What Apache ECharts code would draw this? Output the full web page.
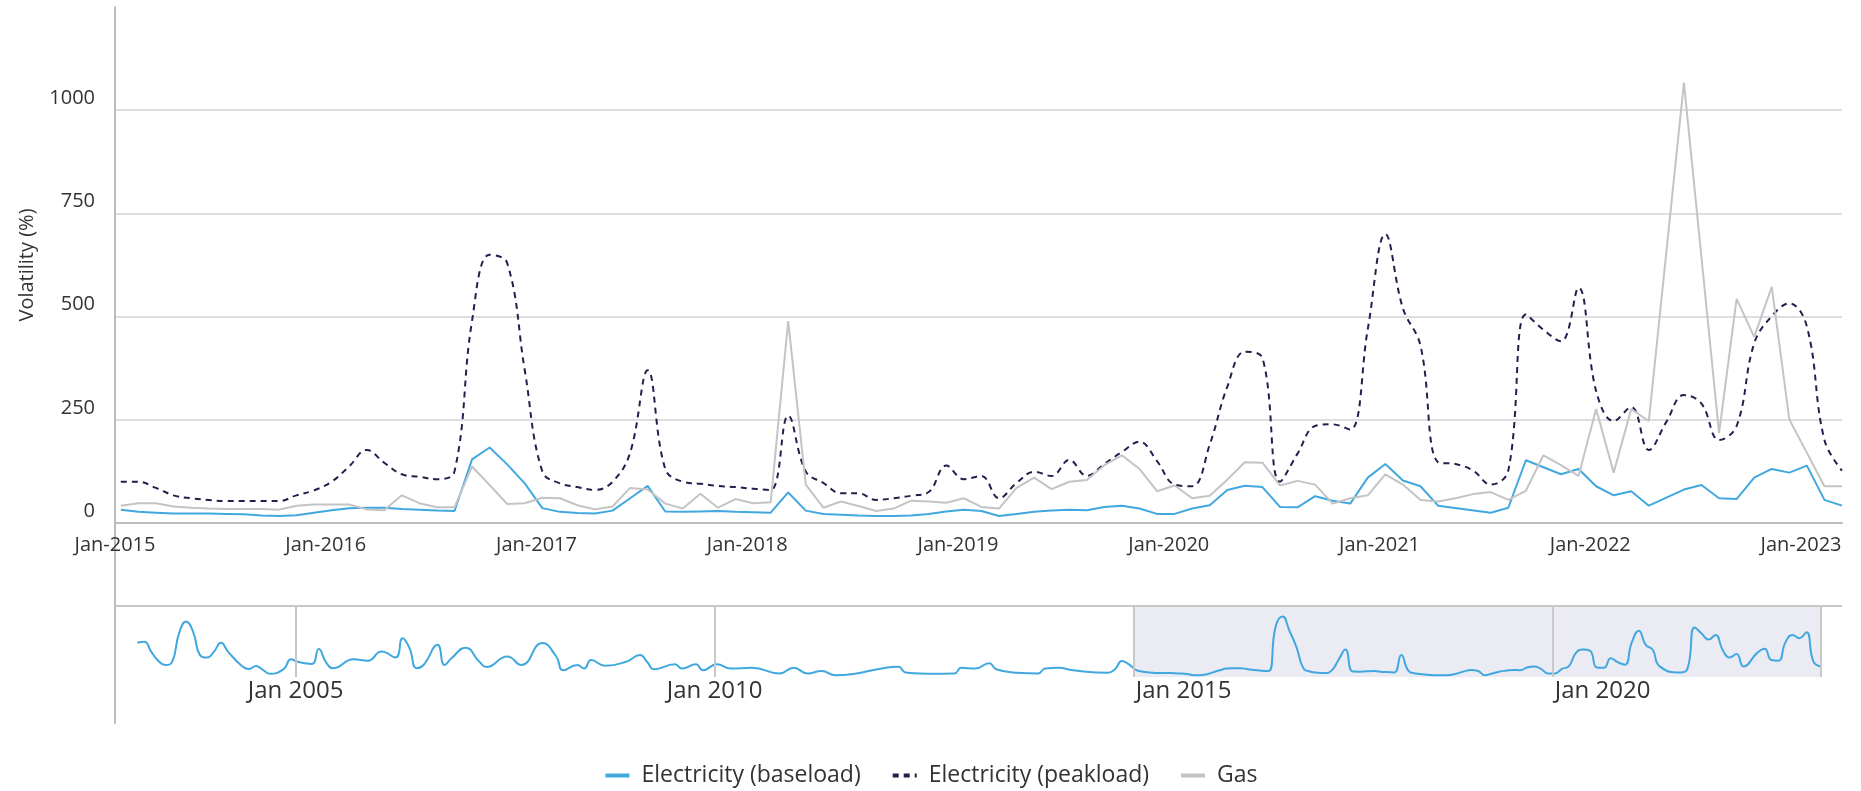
<!DOCTYPE html>
<html>
<head>
<meta charset="utf-8">
<title>Volatility</title>
<script src="https://cdn.jsdelivr.net/npm/echarts@6/dist/echarts.min.js"></script>
<style>
  html, body { margin: 0; padding: 0; background: #fff; }
  #chart { width: 1861px; height: 791px; }
</style>
</head>
<body>
<div id="chart"></div>
<script>
// monthly volatility (%), Jan 2015 .. Mar 2023; null = no point, line runs straight across
const baseload = [
  32, 27, 25, 23, 23, 23, 22, 21, 18, 17, 19, 25,
  31, 36, 37, 37, 34, 32, 30, 29, 154, 183, 142, 96,
  36, 27, 24, 23, 30, 60, 90, 28, 27, 28, 29, 27,
  26, 25, 74, 30, 22, 20, 18, 17, 17, 18, 22, 28,
  32, 29, 17, 22, 27, 30, 32, 31, 39, 42, 35, 22,
  22, 35, 43, 80, 90, 87, 39, 38, 65, 54, 47, 110,
  143, 103, 89, 42, null, null, 25, 37, 152, 135, 118, 131,
  89, 67, 77, 42, null, 81, 92, 60, 58, 110, 131, 122,
  139, 56, 42
];
const peakload = [
  100, 100, 85, 67, 60, 56, 53, 53, 53, 53, 67, 79,
  100, 137, 177, 146, 118, 112, 106, 125, 490, 650, 630, 370,
  125, 96, 87, 80, 100, 170, 370, 131, 100, 95, 90, 87,
  83, 80, 260, 125, 97, 72, 72, 56, 60, 66, 75, 139,
  106, 114, 60, 97, 124, 114, 153, 114, 143, 172, 197, 150,
  93, 89, 190, 330, 415, 400, 100, 168, 235, 239, 226, 470,
  700, 520, 430, 147, 143, 127, 93, 127, 505, 468, 440, 570,
  320, 247, 281, 177, 245, 310, 289, 201, 235, 435, 501, 532,
  476, 201, 127
];
const gas = [
  42, 48, 48, 40, 37, 35, 34, 34, 34, 32, 42, 45,
  45, 45, 33, 31, 67, 48, 38, 38, 137, 92, 46, 48,
  61, 60, 43, 33, 40, 85, 81, 47, 35, 71, 37, 58,
  48, 50, 489, 93, 37, 52, 41, 29, 35, 54, 52, 49,
  60, 39, 35, 85, 110, 82, 100, 104, 140, 164, 131, 77,
  91, 60, 66, 105, 147, 146, 91, 102, 93, 47, 60, 67,
  118, 93, 56, 52, 60, 70, 75, 56, 78, 164, 140, 114,
  276, 122, 276, 247, null, 1067, null, 218, 543, 451, 572, 251,
  null, 89, 89
];
const yearLabels = ['Jan-2015', 'Jan-2016', 'Jan-2017', 'Jan-2018', 'Jan-2019',
  'Jan-2020', 'Jan-2021', 'Jan-2022', 'Jan-2023'];

// navigator: baseload overview before 2015 (turning points of the curve)
const navHistDates = [
  '2003-02', '2003-03', '2003-04', '2003-05', '2003-06', '2003-07', '2003-08', '2003-09', '2003-10', '2003-11', '2003-12',
  '2004-01', '2004-02', '2004-03', '2004-05', '2004-06', '2004-07', '2004-08', '2004-09', '2004-11', '2004-12',
  '2005-01', '2005-03', '2005-04', '2005-05', '2005-06', '2005-09', '2005-11',
  '2006-01', '2006-03', '2006-04', '2006-05', '2006-06', '2006-07', '2006-09', '2006-10', '2006-11',
  '2007-01', '2007-03', '2007-04', '2007-07', '2007-09', '2007-12',
  '2008-02', '2008-03', '2008-05', '2008-06', '2008-07', '2008-09', '2008-12',
  '2009-02', '2009-03', '2009-04', '2009-07', '2009-08', '2009-10', '2009-11',
  '2010-01', '2010-03', '2010-06', '2010-10', '2010-12',
  '2011-02', '2011-04', '2011-06', '2011-09', '2011-12',
  '2012-03', '2012-04', '2012-06', '2012-08', '2012-11', '2012-12',
  '2013-02', '2013-04', '2013-05', '2013-08', '2013-11', '2013-12',
  '2014-02', '2014-04', '2014-09', '2014-10', '2014-11', '2014-12'
];
const navHistValues = [
  109, 112, 84, 58, 46, 55, 136, 169, 140, 74, 67,
  84, 109, 84, 43, 35, 43, 32, 21, 35, 62,
  55, 49, 91, 55, 37, 62, 58,
  84, 67, 122, 93, 37, 46, 103, 46, 65,
  95, 55, 40, 70, 46, 108,
  70, 31, 46, 36, 60, 44, 55,
  74, 55, 34, 48, 36, 48, 31,
  48, 36, 38, 22, 38,
  22, 29, 17, 22, 34,
  41, 25, 22, 21, 22, 38,
  36, 51, 34, 24, 22, 36,
  38, 31, 24, 34, 57, 48
];
const navTickDates = ['2005-01', '2010-01', '2015-01', '2020-01'];
const navTickLabels = ['Jan 2005', 'Jan 2010', 'Jan 2015', 'Jan 2020'];

const DAY_OFFSET = 0.33;        // points sit about ten days into their month
const LAST = baseload.length - 1 + DAY_OFFSET;
const NAV_MIN = 12, NAV_MAX = 213;
const FONT = '"Open Sans", "Noto Sans", sans-serif';

const monthIndex = s => {
  const [y, m] = s.split('-').map(Number);
  return (y - 2015) * 12 + (m - 1);
};
const pairs = arr => arr.map((v, i) => [i + DAY_OFFSET, v]);
const navTicks = navTickDates.map(monthIndex);
const navData = navHistDates
  .map((d, k) => [monthIndex(d) + DAY_OFFSET, navHistValues[k]])
  .concat(pairs(baseload));

// navigator grid runs 523..723 px, the curve band is 606..677 px
const navUnit = (NAV_MAX - NAV_MIN) / (677 - 606);
const navYMin = NAV_MIN - (723 - 677) * navUnit;
const navYMax = NAV_MAX + (606 - 523) * navUnit;

const chart = echarts.init(document.getElementById('chart'));

chart.setOption({
  animation: false,
  textStyle: { fontFamily: FONT },
  legend: {
    left: 'center',
    top: 759,
    itemWidth: 24,
    itemHeight: 14,
    itemGap: 30,
    lineStyle: { width: 4 },
    itemStyle: { opacity: 0 },
    textStyle: { fontSize: 23, color: '#333', fontFamily: FONT, padding: [0, 0, 0, 7] },
    data: ['Electricity (baseload)', 'Electricity (peakload)', 'Gas']
  },
  grid: [
    { left: 115, right: 19, top: 7, bottom: 268 },
    { left: 115, right: 19, top: 523, height: 200 }
  ],
  xAxis: [
    {
      type: 'value',
      gridIndex: 0,
      min: 0,
      max: LAST,
      interval: 12,
      axisLine: { lineStyle: { color: '#bdbdbd', width: 2 } },
      axisTick: { show: false },
      splitLine: { show: false },
      axisLabel: {
        fontSize: 20,
        color: '#333',
        margin: 12,
        formatter: v => {
          const k = Math.round(v) / 12;
          return Number.isInteger(k) && yearLabels[k] ? yearLabels[k] : '';
        }
      }
    },
    {
      type: 'value',
      gridIndex: 1,
      min: -145.85,
      max: 101.43,
      offset: -46,
      axisLine: { show: false, onZero: false },
      axisTick: { show: false },
      splitLine: { show: false },
      axisLabel: {
        customValues: navTicks,
        margin: 2,
        formatter: v => {
          const k = navTicks.indexOf(Math.round(v));
          if (k < 0) return '';
          // the two right-hand labels start at their line, the others are centred
          return v >= 0 ? '{pad|}{t|' + navTickLabels[k] + '}' : '{t|' + navTickLabels[k] + '}';
        },
        rich: {
          t: { fontSize: 24, color: '#333', fontFamily: FONT },
          pad: { width: 100 }
        }
      }
    }
  ],
  yAxis: [
    {
      type: 'value',
      gridIndex: 0,
      min: 0,
      max: 1250,
      interval: 250,
      name: 'Volatility (%)',
      nameLocation: 'middle',
      nameGap: 78,
      nameTextStyle: { fontSize: 20, color: '#333' },
      axisLine: { show: true, lineStyle: { color: '#bdbdbd', width: 2 } },
      axisTick: { show: false },
      splitLine: { showMaxLine: false, lineStyle: { color: '#dedede', width: 2 } },
      axisLabel: {
        showMaxLabel: false,
        fontSize: 20,
        color: '#333',
        margin: 20,
        verticalAlign: 'bottom',
        lineHeight: 24,
        formatter: v => String(v)
      }
    },
    {
      type: 'value',
      gridIndex: 1,
      min: navYMin,
      max: navYMax,
      axisLine: { show: true, onZero: false, lineStyle: { color: '#bdbdbd', width: 2 } },
      axisTick: { show: false },
      axisLabel: { show: false },
      splitLine: { show: false }
    }
  ],
  series: [
    {
      name: 'Electricity (baseload)',
      type: 'line',
      data: pairs(baseload),
      connectNulls: true,
      symbol: 'none',
      lineStyle: { color: '#41a8df', width: 2 },
      itemStyle: { color: '#41a8df' }
    },
    {
      name: 'Electricity (peakload)',
      type: 'line',
      data: pairs(peakload),
      smooth: 0.4,
      connectNulls: true,
      symbol: 'none',
      lineStyle: { color: '#2b1b4c', width: 2, type: [6, 5] },
      itemStyle: { color: '#2b1b4c' }
    },
    {
      name: 'Gas',
      type: 'line',
      data: pairs(gas),
      connectNulls: true,
      symbol: 'none',
      lineStyle: { color: '#c4c4c4', width: 2 },
      itemStyle: { color: '#c4c4c4' }
    },
    {
      name: 'navigator',
      type: 'line',
      xAxisIndex: 1,
      yAxisIndex: 1,
      data: navData,
      smooth: 0.5,
      connectNulls: true,
      symbol: 'none',
      silent: true,
      lineStyle: { color: '#41a8df', width: 2 },
      markArea: {
        silent: true,
        itemStyle: { color: '#ebebf4' },
        data: [[{ xAxis: 0, yAxis: NAV_MIN }, { xAxis: LAST, yAxis: NAV_MAX }]]
      },
      markLine: {
        silent: true,
        symbol: 'none',
        label: { show: false },
        lineStyle: { color: '#c8c8c8', width: 2, type: 'solid' },
        data: navTicks.concat([LAST]).map(x => [
          { coord: [x, NAV_MIN] },
          { coord: [x, NAV_MAX] }
        ]).concat([{ yAxis: NAV_MAX }])
      }
    }
  ]
});
</script>
</body>
</html>
